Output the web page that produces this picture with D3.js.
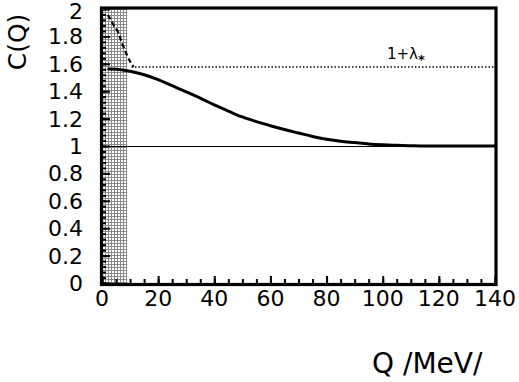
<!DOCTYPE html>
<html>
<head>
<meta charset="utf-8">
<script src="https://cdn.jsdelivr.net/npm/d3@7"></script>
<style>
  html, body { margin: 0; padding: 0; background: #fff; }
  svg { display: block; }
  text { font-family: "DejaVu Sans", "Liberation Sans", Arial, sans-serif; fill: #000; }
</style>
</head>
<body>
<svg id="chart" width="519" height="382"></svg>
<script>
// ---- data ----
const xTicks = [0, 20, 40, 60, 80, 100, 120, 140];
const yTicks = [0, 0.2, 0.4, 0.6, 0.8, 1, 1.2, 1.4, 1.6, 1.8, 2];
const yTickLabels = ["0", "0.2", "0.4", "0.6", "0.8", "1", "1.2", "1.4", "1.6", "1.8", "2"];

// solid correlation curve
const fitQ = [2, 5, 8, 10, 15, 20, 25, 30, 35, 40, 45, 50, 55, 60, 65, 70, 75, 80, 85, 90, 95, 100, 105, 110, 115, 120, 130, 140];
const fitC = [1.562, 1.56, 1.553, 1.545, 1.52, 1.485, 1.44, 1.395, 1.35, 1.30, 1.255, 1.212, 1.178, 1.148, 1.12, 1.095, 1.07, 1.05, 1.035, 1.025, 1.015, 1.009, 1.005, 1.002, 1.0, 1.0, 1.0, 1.0];

// dashed (Coulomb-affected) curve at small Q
const dashQ = [2.1, 2.9, 4.2, 5.7, 7.1, 8.9, 10.2, 11.3];
const dashC = [1.956, 1.93, 1.88, 1.832, 1.752, 1.664, 1.61, 1.578];

const lambdaStar = 1.577;   // 1 + lambda* level
const baseline = 1.0;
const cutRange = [0, 9];     // shaded excluded region

// ---- layout ----
const svg = d3.select("#chart");
const x = d3.scaleLinear().domain([0, 140]).range([102, 495]);
const y = d3.scaleLinear().domain([0, 2]).range([283, 9]);

// pattern for shaded region
const defs = svg.append("defs");
const pat = defs.append("pattern")
  .attr("id", "hatch").attr("patternUnits", "userSpaceOnUse")
  .attr("width", 3).attr("height", 3);
pat.append("rect").attr("width", 3).attr("height", 3).attr("fill", "#fff");
pat.append("rect").attr("x", 0).attr("y", 0).attr("width", 3).attr("height", 1).attr("fill", "#8a8a8a");
pat.append("rect").attr("x", 0).attr("y", 0).attr("width", 1).attr("height", 3).attr("fill", "#8a8a8a");

svg.append("rect")
  .attr("x", x(cutRange[0])).attr("y", y(2))
  .attr("width", x(cutRange[1]) - x(cutRange[0]))
  .attr("height", y(0) - y(2))
  .attr("fill", "url(#hatch)");

// baseline at 1
svg.append("line")
  .attr("x1", x(0)).attr("x2", x(140))
  .attr("y1", y(baseline) + 0.5).attr("y2", y(baseline) + 0.5)
  .attr("stroke", "#000").attr("stroke-width", 1)
  .attr("shape-rendering", "crispEdges");

// dotted 1+lambda*
svg.append("line")
  .attr("x1", x(10.5)).attr("x2", x(140))
  .attr("y1", y(lambdaStar)).attr("y2", y(lambdaStar))
  .attr("stroke", "#000").attr("stroke-width", 1.5)
  .attr("stroke-dasharray", "1.5,2");

const line = d3.line().curve(d3.curveMonotoneX);

svg.append("path")
  .attr("d", line(fitQ.map((q, i) => [x(q), y(fitC[i])])))
  .attr("fill", "none").attr("stroke", "#000").attr("stroke-width", 3);

svg.append("path")
  .attr("d", d3.line().curve(d3.curveCatmullRom)(dashQ.map((q, i) => [x(q), y(dashC[i])])))
  .attr("fill", "none").attr("stroke", "#000").attr("stroke-width", 2.2)
  .attr("stroke-dasharray", "5,3");

// axes ticks (inward)
const yMinor = d3.range(0, 2.0001, 0.04);
svg.append("g").attr("transform", `translate(${x(0)},0)`)
  .call(d3.axisRight(y).tickValues(yMinor).tickSize(4).tickFormat(""))
  .call(g => g.select(".domain").remove())
  .selectAll("line").attr("stroke-width", 2);
svg.append("g").attr("transform", `translate(${x(0)},0)`)
  .call(d3.axisRight(y).tickValues(yTicks).tickSize(8).tickFormat(""))
  .call(g => g.select(".domain").remove())
  .selectAll("line").attr("stroke-width", 2);

const xMinor = d3.range(0, 140.001, 5);
svg.append("g").attr("transform", `translate(0,${y(0)})`)
  .call(d3.axisTop(x).tickValues(xMinor).tickSize(4).tickFormat(""))
  .call(g => g.select(".domain").remove())
  .selectAll("line").attr("stroke-width", 2);
svg.append("g").attr("transform", `translate(0,${y(0)})`)
  .call(d3.axisTop(x).tickValues(xTicks).tickSize(7).tickFormat(""))
  .call(g => g.select(".domain").remove())
  .selectAll("line").attr("stroke-width", 2);

// frame
svg.append("rect")
  .attr("x", x(0) - 0.5).attr("y", y(2) - 1)
  .attr("width", x(140) - x(0) + 1.5).attr("height", y(0) - y(2) + 2.5)
  .attr("fill", "none").attr("stroke", "#000").attr("stroke-width", 3.2);

// tick labels
svg.append("g").selectAll("text").data(yTicks).join("text")
  .attr("x", 83).attr("y", d => d === 2 ? y(d) + 2 : y(d)).attr("dy", "0.36em")
  .attr("text-anchor", "end").attr("font-size", 22)
  .text((d, i) => yTickLabels[i]);

svg.append("g").selectAll("text").data(xTicks).join("text")
  .attr("x", d => x(d)).attr("y", 298).attr("dy", "0.36em")
  .attr("text-anchor", "middle").attr("font-size", 22)
  .text(d => d);

// axis titles
svg.append("text")
  .attr("transform", "translate(17,42) rotate(-90)")
  .attr("text-anchor", "middle").attr("dy", "0.36em").attr("font-size", 25)
  .text("C(Q)");

const xt = svg.append("text")
  .attr("x", 372).attr("y", 373)
  .attr("font-size", 28);
xt.append("tspan").text("Q");
xt.append("tspan").attr("x", 403).text("/MeV/");

// lambda label
const lab = svg.append("text").attr("x", 387).attr("y", 59).attr("font-size", 15);
lab.append("tspan").text("1+λ");
lab.append("tspan").attr("dy", 5).attr("font-size", 13).attr("font-weight", "bold").text("*");
</script>
</body>
</html>
